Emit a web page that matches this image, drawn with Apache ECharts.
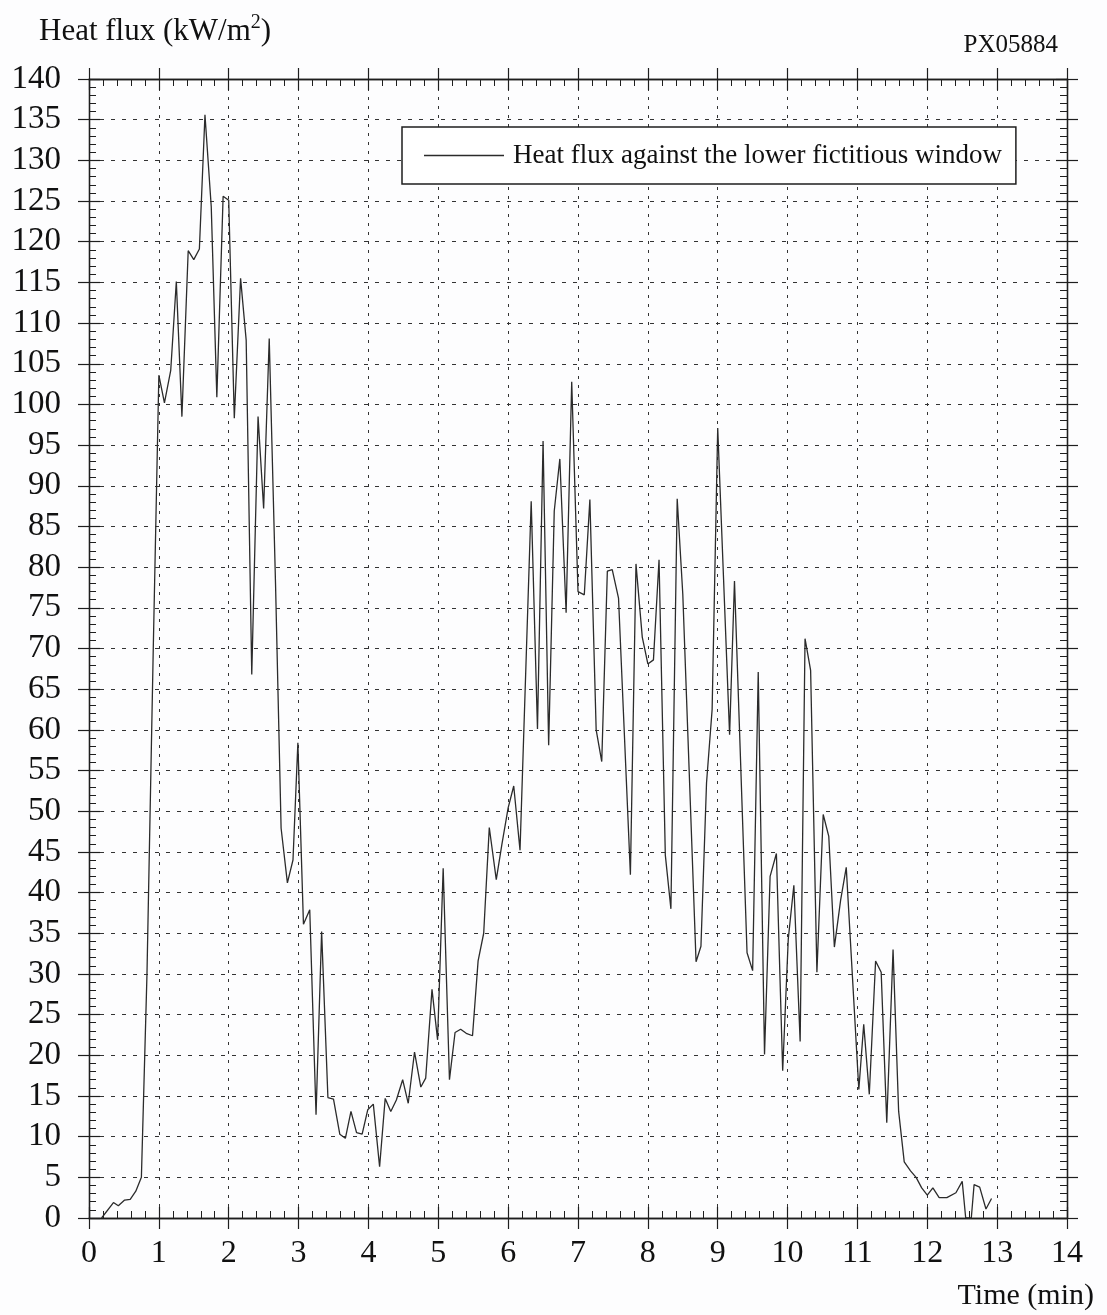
<!DOCTYPE html>
<html>
<head>
<meta charset="utf-8">
<script src="https://cdn.jsdelivr.net/npm/echarts@6/dist/echarts.min.js"></script>
</head>
<body style="margin:0;background:#fdfdfe">
<div id="container" style="width:1107px;height:1315px"></div>
<script>
// time in minutes
var timeMin = [
  0.18, 0.35, 0.42, 0.51, 0.59, 0.67, 0.75, 0.83, 0.92, 1.00,
  1.08, 1.17, 1.25, 1.33, 1.42, 1.50, 1.58, 1.66, 1.75, 1.83,
  1.92, 2.00, 2.08, 2.17, 2.25, 2.33, 2.42, 2.50, 2.58, 2.67,
  2.75, 2.84, 2.92, 2.99, 3.07, 3.16, 3.25, 3.33, 3.42, 3.50,
  3.59, 3.67, 3.75, 3.83, 3.91, 3.99, 4.07, 4.16, 4.24, 4.32,
  4.40, 4.49, 4.57, 4.66, 4.75, 4.82, 4.91, 4.99, 5.07, 5.16,
  5.24, 5.32, 5.40, 5.49, 5.57, 5.65, 5.73, 5.83, 5.91, 6.00,
  6.08, 6.17, 6.33, 6.42, 6.50, 6.58, 6.66, 6.74, 6.83, 6.91,
  7.00, 7.09, 7.17, 7.26, 7.34, 7.42, 7.49, 7.58, 7.75, 7.83,
  7.92, 8.00, 8.08, 8.16, 8.25, 8.33, 8.42, 8.50, 8.69, 8.76,
  8.84, 8.92, 9.00, 9.17, 9.24, 9.42, 9.50, 9.58, 9.67, 9.75,
  9.84, 9.93, 10.01, 10.09, 10.18, 10.25, 10.33, 10.42, 10.51, 10.59,
  10.67, 10.76, 10.84, 11.02, 11.09, 11.17, 11.26, 11.34, 11.42, 11.51,
  11.59, 11.67, 11.76, 11.84, 11.92, 12.00, 12.08, 12.17, 12.28, 12.41,
  12.50, 12.55, 12.63, 12.67, 12.75, 12.84, 12.92
];
// heat flux kW/m2
var heatFlux = [
  0, 1.9, 1.5, 2.2, 2.3, 3.3, 5.0, 30, 70, 103.6,
  100.2, 104.2, 115.1, 98.5, 118.9, 117.8, 119.1, 135.6, 124.3, 100.9,
  125.6, 125.1, 98.3, 115.5, 107.9, 66.8, 98.5, 87.2, 108.1, 78,
  47.9, 41.2, 44.0, 58.4, 36.1, 37.9, 12.7, 35.2, 14.8, 14.6,
  10.3, 9.8, 13.1, 10.5, 10.3, 13.3, 14.0, 6.3, 14.7, 13.1,
  14.5, 17.0, 14.1, 20.4, 16.1, 17.2, 28.1, 21.9, 43.0, 17.0,
  22.8, 23.2, 22.7, 22.4, 31.6, 35.0, 48.0, 41.6, 45.9, 50.4,
  53.1, 45.2, 88.1, 60.1, 95.5, 58.1, 86.9, 93.3, 74.4, 102.8,
  77.0, 76.6, 88.3, 60.0, 56.1, 79.5, 79.7, 76.2, 42.2, 80.4,
  71.4, 68.1, 68.6, 80.9, 44.6, 38.0, 88.4, 76.7, 31.5, 33.4,
  53.5, 62.5, 97.1, 59.4, 78.3, 32.6, 30.4, 67.1, 20.1, 42.0,
  44.8, 18.1, 34.3, 40.9, 21.7, 71.2, 67.3, 30.2, 49.6, 46.9,
  33.3, 39.1, 43.1, 15.8, 23.8, 15.2, 31.6, 30.2, 11.7, 33.0,
  13.1, 6.9, 5.8, 5.0, 3.7, 2.8, 3.7, 2.5, 2.5, 3.1,
  4.5, 0, 0, 4.1, 3.8, 1.1, 2.4
];
var seriesName = 'Heat flux against the lower fictitious window';

var serif = 'Liberation Serif';
var ink = '#1e1e1e';

var chart = echarts.init(document.getElementById('container'));

// one axis per side, ticks inside or outside so the major ticks cross the frame
function xAx(pos, inside, labels) {
  return {
    type: 'value', position: pos, min: 0, max: 14, interval: 1,
    axisLine: { show: true, onZero: false, lineStyle: { color: ink, width: 1.3 } },
    axisTick: { show: true, inside: inside, length: 11, lineStyle: { color: ink, width: 1.2 } },
    minorTick: { show: inside, splitNumber: 5, length: 7, lineStyle: { color: ink, width: 1 } },
    axisLabel: { show: labels, color: '#111', fontSize: 32, fontFamily: serif, margin: 20 },
    splitLine: { show: labels, lineStyle: { color: '#333', width: 1, type: [3, 6] } }
  };
}
function yAx(pos, inside, labels) {
  return {
    type: 'value', position: pos, min: 0, max: 140, interval: 5,
    axisLine: { show: true, onZero: false, lineStyle: { color: ink, width: 1.3 } },
    axisTick: { show: true, inside: inside, length: 11, lineStyle: { color: ink, width: 1.2 } },
    minorTick: { show: inside, splitNumber: 5, length: 7, lineStyle: { color: ink, width: 1 } },
    axisLabel: { show: labels, color: '#111', fontSize: 33, fontFamily: serif, margin: 28 },
    splitLine: { show: labels, lineStyle: { color: '#333', width: 1, type: [4, 7] } }
  };
}

var points = timeMin.map(function (t, i) { return [t, heatFlux[i]]; });

var option = {
  backgroundColor: '#fdfdfe',
  animation: false,
  grid: { left: 89, right: 40, top: 79, bottom: 97 },
  title: [
    {
      text: '{a|Heat flux (kW/m}{s|2}{a|)}',
      left: 34, top: 8,
      textStyle: {
        rich: {
          a: { fontSize: 31, fontWeight: 'normal', fontFamily: serif, color: '#111', lineHeight: 38 },
          s: { fontSize: 20, fontWeight: 'normal', fontFamily: serif, color: '#111', verticalAlign: 'top', lineHeight: 38 }
        }
      }
    },
    {
      text: 'PX05884', right: 44, top: 28,
      textStyle: { fontSize: 25, fontWeight: 'normal', fontFamily: serif, color: '#111' }
    },
    {
      text: 'Time (min)', right: 8, top: 1276,
      textStyle: { fontSize: 30, fontWeight: 'normal', fontFamily: serif, color: '#111' }
    }
  ],
  legend: {
    data: [{ name: seriesName, icon: 'rect' }],
    left: 402, top: 127,
    orient: 'horizontal',
    itemWidth: 80, itemHeight: 1.4, itemGap: 8,
    padding: [15, 14, 15, 22],
    backgroundColor: '#ffffff',
    borderColor: ink, borderWidth: 1.5,
    itemStyle: { color: '#2b2b2b' },
    textStyle: { fontSize: 27, fontFamily: serif, color: '#111', padding: [0, 0, 0, 4] }
  },
  xAxis: [xAx('bottom', false, true), xAx('bottom', true, false), xAx('top', false, false), xAx('top', true, false)],
  yAxis: [yAx('left', false, true), yAx('left', true, false), yAx('right', false, false), yAx('right', true, false)],
  series: [
    {
      name: seriesName,
      type: 'line',
      xAxisIndex: 0, yAxisIndex: 0,
      symbol: 'none',
      lineStyle: { color: '#2b2b2b', width: 1.3 },
      itemStyle: { color: '#2b2b2b' },
      data: points
    }
  ]
};
chart.setOption(option);
</script>
</body>
</html>
